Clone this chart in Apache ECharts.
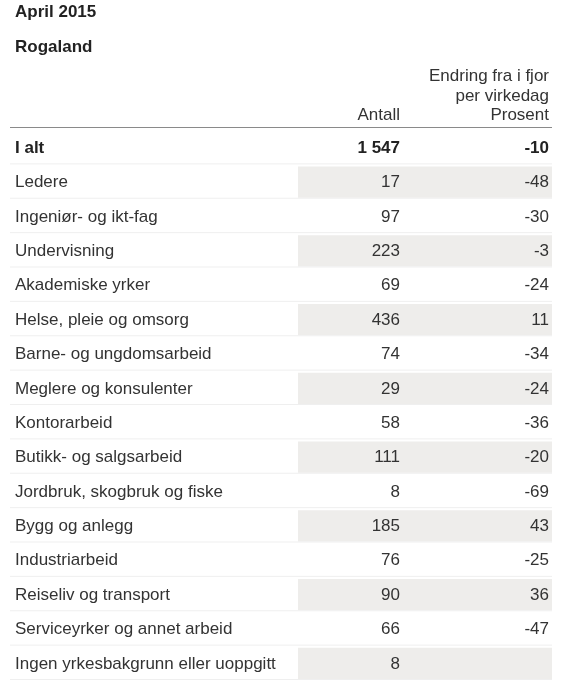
<!DOCTYPE html>
<html>
<head>
<meta charset="utf-8">
<script src="https://cdn.jsdelivr.net/npm/echarts@6/dist/echarts.min.js"></script>
<style>
html,body{margin:0;padding:0;background:#fff;}
#main{width:565px;height:685px;}
</style>
</head>
<body>
<div id="main"></div>
<script>
// ---- data ----
var title = 'April 2015';
var region = 'Rogaland';
var categories = ['I alt','Ledere','Ingeniør- og ikt-fag','Undervisning','Akademiske yrker','Helse, pleie og omsorg','Barne- og ungdomsarbeid','Meglere og konsulenter','Kontorarbeid','Butikk- og salgsarbeid','Jordbruk, skogbruk og fiske','Bygg og anlegg','Industriarbeid','Reiseliv og transport','Serviceyrker og annet arbeid','Ingen yrkesbakgrunn eller uoppgitt'];
var antall = [1547,17,97,223,69,436,74,29,58,111,8,185,76,90,66,8];
var prosent = [-10,-48,-30,-3,-24,11,-34,-24,-36,-20,-69,43,-25,36,-47,null];
var headerAntall = ['Antall'];
var headerProsent = ['Endring fra i fjor','per virkedag','Prosent'];

// ---- layout / style ----
var FONT = 'Liberation Sans, Arial, sans-serif';
var TXT = '#333';
var COL = {left: 10, label: 15, shadeStart: 298, antallRight: 400, prosentRight: 549, right: 552};

function fmt(n){
  if (n === null || n === undefined) return '';
  return String(n).replace(/\B(?=(\d{3})+(?!\d))/g, ' ');
}

var chart = echarts.init(document.getElementById('main'), null, {renderer:'canvas'});

var rows = categories.map(function(c, i){ return [i]; });

function renderItem(params, api){
  var idx = api.value(0);
  var h = api.size([0,1])[1];
  var pL = api.coord([COL.left, idx]);
  var cy = pL[1];
  var top = cy - h/2;
  var xLeft = pL[0];
  var xLabel = api.coord([COL.label, idx])[0];
  var xShade = api.coord([COL.shadeStart, idx])[0];
  var xA = api.coord([COL.antallRight, idx])[0];
  var xP = api.coord([COL.prosentRight, idx])[0];
  var xR = api.coord([COL.right, idx])[0];
  var bold = idx === 0;
  var weight = bold ? 'bold' : 'normal';
  var children = [];
  if (idx % 2 === 1) {
    children.push({type:'rect', shape:{x:xShade, y:top+1, width:xR-xShade, height:h-3}, style:{fill:'#eeedeb'}});
  }
  children.push({type:'line', shape:{x1:xLeft, y1:top+h-1.5, x2:xR, y2:top+h-1.5}, style:{stroke:'#efefef', lineWidth:1}});
  children.push({type:'text', style:{text:categories[idx], x:xLabel, y:cy, textAlign:'left', textVerticalAlign:'middle', font: weight+' 17px '+FONT, fill: bold ? '#222' : TXT}});
  children.push({type:'text', style:{text:fmt(antall[idx]), x:xA, y:cy, textAlign:'right', textVerticalAlign:'middle', font: weight+' 17px '+FONT, fill: bold ? '#222' : TXT}});
  children.push({type:'text', style:{text:fmt(prosent[idx]), x:xP, y:cy, textAlign:'right', textVerticalAlign:'middle', font: weight+' 17px '+FONT, fill: bold ? '#222' : TXT}});
  return {type:'group', children:children};
}

var headerGraphics = [];
headerProsent.forEach(function(t, i){
  headerGraphics.push({type:'text', right: 565-COL.prosentRight, top: 68 + i*19.5, style:{text:t, font:'17px '+FONT, fill:TXT, textAlign:'right'}});
});
headerGraphics.push({type:'text', right: 565-COL.antallRight, top: 68 + 2*19.5, style:{text:headerAntall[0], font:'17px '+FONT, fill:TXT, textAlign:'right'}});
headerGraphics.push({type:'line', shape:{x1:COL.left, y1:127.5, x2:COL.right, y2:127.5}, style:{stroke:'#8a8a8a', lineWidth:1}});

chart.setOption({
  animation:false,
  backgroundColor:'#fff',
  title:[
    {text:title, left:10, top:-1, textStyle:{fontFamily:FONT, fontSize:17, fontWeight:'bold', color:'#222'}},
    {text:region, left:10, top:34, textStyle:{fontFamily:FONT, fontSize:17, fontWeight:'bold', color:'#222'}}
  ],
  grid:{left:0, right:0, top:131, height:550},
  xAxis:{type:'value', min:0, max:565, show:false},
  yAxis:{type:'category', data:categories, inverse:true, show:false},
  graphic: headerGraphics,
  series:[{
    type:'custom',
    renderItem: renderItem,
    data: rows,
    encode:{y:0},
    silent:true
  }]
});
</script>
</body>
</html>
